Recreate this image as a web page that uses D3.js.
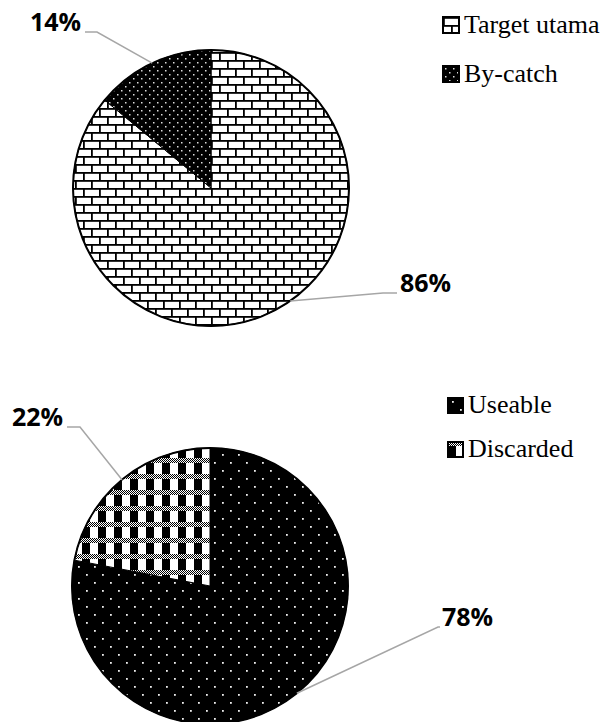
<!DOCTYPE html>
<html>
<head>
<meta charset="utf-8">
<script src="https://cdn.jsdelivr.net/npm/d3@7"></script>
<style>
  body { margin: 0; background: #fff; }
  svg { display: block; }
</style>
</head>
<body>
<div id="chart"></div>
<script>
// data
const catchCategories = ["Target utama", "By-catch"];
const catchValues = [86, 14];
const catchLabels = ["86%", "14%"];

const useCategories = ["Useable", "Discarded"];
const useValues = [78, 22];
const useLabels = ["78%", "22%"];

const width = 607;
const height = 722;

const svg = d3.select("#chart").append("svg")
  .attr("width", width)
  .attr("height", height);

const defs = svg.append("defs");

// brick pattern (Target utama)
const brick = defs.append("pattern")
  .attr("id", "brick").attr("patternUnits", "userSpaceOnUse")
  .attr("width", 16).attr("height", 16);
brick.append("rect").attr("width", 16).attr("height", 16).attr("fill", "#fff");
brick.append("rect").attr("x", 0).attr("y", 0).attr("width", 16).attr("height", 1.8).attr("fill", "#000");
brick.append("rect").attr("x", 0).attr("y", 8).attr("width", 16).attr("height", 1.8).attr("fill", "#000");
brick.append("rect").attr("x", 0).attr("y", 0).attr("width", 1.8).attr("height", 8).attr("fill", "#000");
brick.append("rect").attr("x", 8).attr("y", 8).attr("width", 1.8).attr("height", 8).attr("fill", "#000");

// fine dots (By-catch)
const dotsSmall = defs.append("pattern")
  .attr("id", "dotsSmall").attr("patternUnits", "userSpaceOnUse")
  .attr("width", 8).attr("height", 8);
dotsSmall.append("rect").attr("width", 8).attr("height", 8).attr("fill", "#000");
[[2, 2], [6, 6]].forEach(([x, y]) =>
  dotsSmall.append("rect").attr("x", x).attr("y", y).attr("width", 1.5).attr("height", 1.5).attr("fill", "#ddd"));

// sparse dots (Useable)
const dotsLarge = defs.append("pattern")
  .attr("id", "dotsLarge").attr("patternUnits", "userSpaceOnUse")
  .attr("width", 16).attr("height", 16);
dotsLarge.append("rect").attr("width", 16).attr("height", 16).attr("fill", "#000");
[[4, 4], [12, 12]].forEach(([x, y]) =>
  dotsLarge.append("rect").attr("x", x).attr("y", y).attr("width", 1.8).attr("height", 1.8).attr("fill", "#eee"));

// plaid / checker (Discarded)
const plaid = defs.append("pattern")
  .attr("id", "plaid").attr("patternUnits", "userSpaceOnUse")
  .attr("width", 16).attr("height", 16);
plaid.append("rect").attr("width", 16).attr("height", 16).attr("fill", "#fff");
plaid.append("rect").attr("x", 0).attr("y", 0).attr("width", 8).attr("height", 16).attr("fill", "#000");
plaid.append("rect").attr("x", 0).attr("y", 0).attr("width", 16).attr("height", 5).attr("fill", "#fff");
for (let i = 0; i < 16; i++) {
  for (let j = 0; j < 5; j++) {
    if ((i + j) % 2 === 0) {
      plaid.append("rect").attr("x", i).attr("y", j).attr("width", 1).attr("height", 1).attr("fill", "#000");
    }
  }
}

const pie = d3.pie().sort(null).value((d) => d);

function drawPie(opts) {
  const { cx, cy, r, values, labels, categories, fills, leaders, legend } = opts;
  const g = svg.append("g").attr("transform", `translate(${cx},${cy})`);
  const arcs = pie(values);
  const arc = d3.arc().innerRadius(0).outerRadius(r);

  g.selectAll("path.slice")
    .data(arcs)
    .enter()
    .append("path")
    .attr("class", "slice")
    .attr("d", arc)
    .attr("fill", (d, i) => `url(#${fills[i]})`)
    .attr("stroke", "#000")
    .attr("stroke-width", 1);

  g.append("circle")
    .attr("r", r)
    .attr("fill", "none")
    .attr("stroke", "#000")
    .attr("stroke-width", 2);

  // leader lines + labels
  arcs.forEach((d, i) => {
    const L = leaders[i];
    const a = L.angle != null ? (L.angle * Math.PI) / 180 : (d.startAngle + d.endAngle) / 2;
    const sx = cx + r * Math.sin(a);
    const sy = cy - r * Math.cos(a);
    svg.append("polyline")
      .attr("points", `${sx},${sy} ${L.elbow[0]},${L.elbow[1]} ${L.end[0]},${L.end[1]}`)
      .attr("fill", "none")
      .attr("stroke", "#a6a6a6")
      .attr("stroke-width", 1.5);
    svg.append("text")
      .attr("x", L.text[0])
      .attr("y", L.text[1])
      .attr("text-anchor", L.anchor)
      .style("font-family", "'Open Sans', sans-serif")
      .style("font-weight", "bold")
      .style("font-size", "25px")
      .attr("fill", "#000")
      .text(labels[i]);
  });

  // legend
  const lg = svg.append("g").attr("transform", `translate(${legend.x},${legend.y})`);
  categories.forEach((c, i) => {
    const row = lg.append("g").attr("transform", `translate(0,${i * legend.step})`);
    row.append("rect")
      .attr("x", 0).attr("y", -legend.box)
      .attr("width", legend.box).attr("height", legend.box)
      .attr("fill", `url(#${fills[i]})`)
      .attr("stroke", "#000")
      .attr("stroke-width", 2);
    row.append("text")
      .attr("x", legend.box + 5)
      .attr("y", 0)
      .style("font-family", "'Liberation Serif', 'Times New Roman', serif")
      .style("font-size", "26px")
      .attr("fill", "#000")
      .text(c);
  });
}

drawPie({
  cx: 211, cy: 188, r: 138,
  values: catchValues, labels: catchLabels, categories: catchCategories,
  fills: ["brick", "dotsSmall"],
  leaders: [
    { angle: 145, elbow: [383, 293], end: [397, 293], text: [400, 292], anchor: "start" },
    { angle: null, elbow: [97, 32], end: [85, 32], text: [81, 31], anchor: "end" }
  ],
  legend: { x: 443, y: 33, step: 49, box: 16 }
});

drawPie({
  cx: 210, cy: 586, r: 138,
  values: useValues, labels: useLabels, categories: useCategories,
  fills: ["dotsLarge", "plaid"],
  leaders: [
    { angle: 141, elbow: [438, 627], end: [440, 627], text: [442, 626], anchor: "start" },
    { angle: null, elbow: [80, 427], end: [67, 427], text: [63, 426], anchor: "end" }
  ],
  legend: { x: 448, y: 413, step: 44, box: 15 }
});
</script>
</body>
</html>
